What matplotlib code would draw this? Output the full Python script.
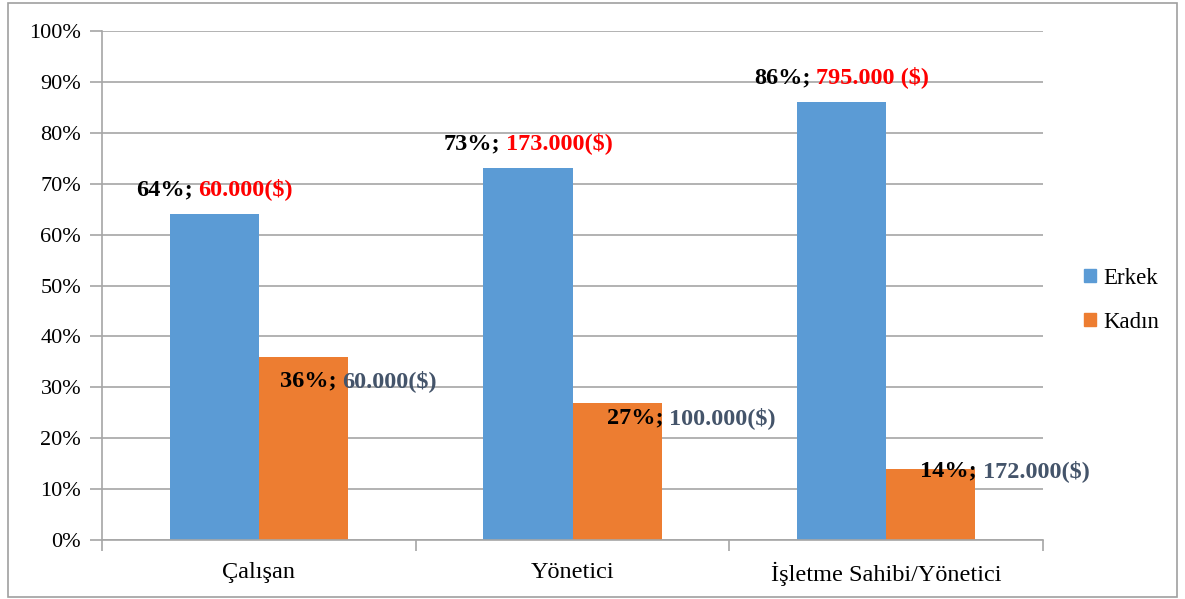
import matplotlib.pyplot as plt
from matplotlib.patches import Patch, Rectangle
from matplotlib.offsetbox import TextArea, HPacker, AnnotationBbox

plt.rcParams['font.family'] = ['Liberation Serif', 'DejaVu Serif']

categories = ["Çalışan", "Yönetici", "İşletme Sahibi/Yönetici"]
erkek = [64, 73, 86]
kadin = [36, 27, 14]
erkek_income = ["60.000($)", "173.000($)", "795.000 ($)"]
kadin_income = ["60.000($)", "100.000($)", "172.000($)"]

blue = '#5B9BD5'
orange = '#ED7D31'
grid_c = '#A6A6A6'
width = 0.284

fig = plt.figure(figsize=(11.85, 5.99), dpi=100)
ax = fig.add_axes([0.0861, 0.0985, 0.7941, 0.8497])

x = list(range(len(categories)))
ax.bar([i - width for i in x], erkek, width, align='edge', color=blue, zorder=2)
ax.bar(x, kadin, width, align='edge', color=orange, zorder=2)

ax.set_xlim(-0.5, len(categories) - 0.5)
ax.set_ylim(0, 100)
ax.set_yticks(range(0, 101, 10))
ax.set_yticklabels([f"{v}%" for v in range(0, 101, 10)])
ax.yaxis.grid(True, color=grid_c, linewidth=1.2, zorder=0)
ax.set_axisbelow(True)

ax.set_xticks(x)
ax.set_xticklabels(categories)
ax.set_xticks([i - 0.5 for i in range(len(categories) + 1)], minor=True)
ax.tick_params(axis='x', which='major', length=0, pad=16, labelsize=17.5)
ax.tick_params(axis='x', which='minor', length=8, color=grid_c, width=1.2)
ax.tick_params(axis='y', length=9, color=grid_c, width=1.2, labelsize=16, pad=6)

for side in ['top', 'right']:
    ax.spines[side].set_visible(False)
for side in ['left', 'bottom']:
    ax.spines[side].set_color(grid_c)
    ax.spines[side].set_linewidth(1.2)


def two_color_label(parts, xy, offset, align):
    boxes = [TextArea(t, textprops=dict(color=c, fontsize=17.5, fontweight='bold'))
             for t, c in parts]
    pack = HPacker(children=boxes, pad=0, sep=4, align='baseline')
    ab = AnnotationBbox(pack, xy, xybox=offset, boxcoords='offset pixels',
                        box_alignment=align, frameon=False, pad=0,
                        annotation_clip=False)
    ax.add_artist(ab)


# value labels: share + average income
kadin_offsets = [(21, -24), (34, -15), (34, -2)]
for i in x:
    two_color_label([(f"{erkek[i]}%;", 'black'), (erkek_income[i], '#FF0000')],
                    (i - width / 2, erkek[i]), (0, 25), (0.5, 0.5))
    two_color_label([(f"{kadin[i]}%;", 'black'), (kadin_income[i], '#44546A')],
                    (i, kadin[i]), kadin_offsets[i], (0, 0.5))

handles = [Patch(color=blue), Patch(color=orange)]
fig.legend(handles, ['Erkek', 'Kadın'], loc='center left',
           bbox_to_anchor=(0.9055, 0.499), frameon=False, fontsize=16.5,
           handlelength=0.5, handleheight=0.5, handletextpad=0.3,
           labelspacing=1.0, borderpad=0)

fig.patches.append(Rectangle((8 / 1185, 2 / 599), 1169 / 1185, 594 / 599,
                             transform=fig.transFigure, fill=False,
                             edgecolor='#A0A0A0', linewidth=1.2))

fig.savefig('out.png', dpi=100)
